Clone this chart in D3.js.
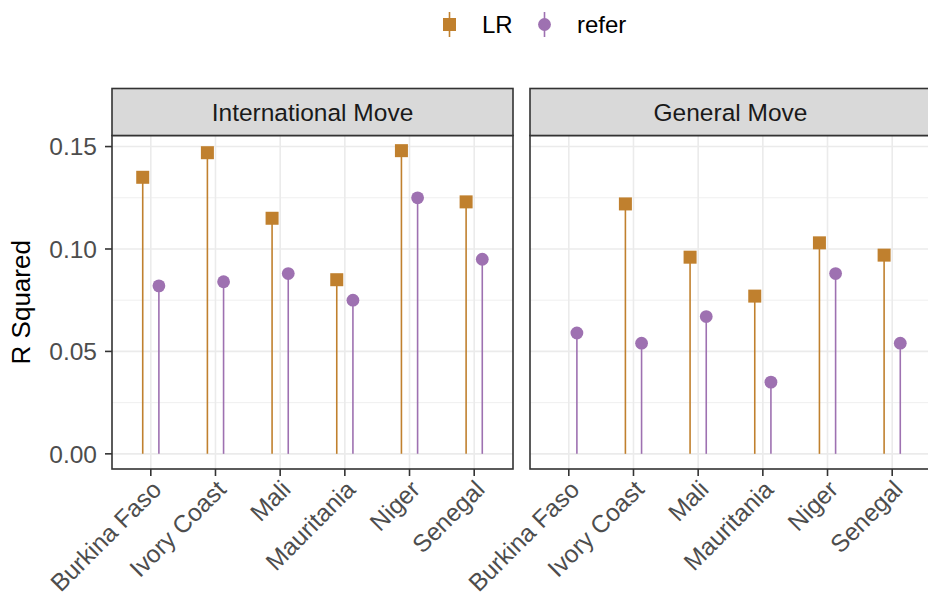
<!DOCTYPE html>
<html>
<head>
<meta charset="utf-8">
<script src="https://cdn.jsdelivr.net/npm/d3@7"></script>
<style>
  html, body { margin: 0; padding: 0; background: #fff; }
  svg { display: block; font-family: "Liberation Sans", Arial, Helvetica, sans-serif; }
</style>
</head>
<body>
<svg id="chart" width="928" height="598"></svg>
<script>
// Countries on the x axis, facets, and series
const countries = ["Burkina Faso", "Ivory Coast", "Mali", "Mauritania", "Niger", "Senegal"];
const facets = ["International Move", "General Move"];
const seriesNames = ["LR", "refer"];

// R squared values per facet (same country order)
const intlLR    = [0.135, 0.147, 0.115, 0.085, 0.148, 0.123];
const intlRefer = [0.082, 0.084, 0.088, 0.075, 0.125, 0.095];
const genLR     = [null,  0.122, 0.096, 0.077, 0.103, 0.097];
const genRefer  = [0.059, 0.054, 0.067, 0.035, 0.088, 0.054];

const yTicks = [0, 0.05, 0.10, 0.15];
const yMinor = [0.025, 0.075, 0.125];

const colors = { LR: "#C0802E", refer: "#9E71B1" };

// long-format rows built from the arrays
const rows = [];
const facetData = { "International Move": [intlLR, intlRefer], "General Move": [genLR, genRefer] };
facets.forEach(f => {
  const [lr, rf] = facetData[f];
  countries.forEach((c, i) => {
    if (lr[i] != null) rows.push({ facet: f, country: c, series: "LR", value: lr[i] });
    if (rf[i] != null) rows.push({ facet: f, country: c, series: "refer", value: rf[i] });
  });
});

const svg = d3.select("#chart");

const panelTop = 135.5, panelBottom = 469, stripTop = 88.5;
const panelW = 401, panelGap = 17, panelLeft = 112;

const ymax = d3.max(rows, d => d.value);
const y = d3.scaleLinear()
  .domain([-0.05 * ymax, 1.05 * ymax])
  .range([panelBottom, panelTop]);

const fmt = d3.format(".2f");

facets.forEach((f, fi) => {
  const x0 = panelLeft + fi * (panelW + panelGap);
  const x = d3.scalePoint().domain(countries).range([x0, x0 + panelW]).padding(0.6);
  const dodge = x.step() * 0.125;

  const g = svg.append("g");

  // minor grid
  g.selectAll(".ymin").data(yMinor).join("line")
    .attr("x1", x0).attr("x2", x0 + panelW)
    .attr("y1", d => y(d)).attr("y2", d => y(d))
    .attr("stroke", "#EBEBEB").attr("stroke-width", 0.8);
  // major grid
  g.selectAll(".ymaj").data(yTicks).join("line")
    .attr("x1", x0).attr("x2", x0 + panelW)
    .attr("y1", d => y(d)).attr("y2", d => y(d))
    .attr("stroke", "#EBEBEB").attr("stroke-width", 1.6);
  g.selectAll(".xmaj").data(countries).join("line")
    .attr("x1", d => x(d)).attr("x2", d => x(d))
    .attr("y1", panelTop).attr("y2", panelBottom)
    .attr("stroke", "#EBEBEB").attr("stroke-width", 1.6);

  const data = rows.filter(r => r.facet === f);
  const px = d => x(d.country) + (d.series === "LR" ? -dodge : dodge);

  // stems
  g.selectAll(".stem").data(data).join("line")
    .attr("x1", px).attr("x2", px)
    .attr("y1", y(0)).attr("y2", d => y(d.value))
    .attr("stroke", d => colors[d.series]).attr("stroke-width", 1.6);

  // heads
  const sq = 13;
  g.selectAll(".sq").data(data.filter(d => d.series === "LR")).join("rect")
    .attr("x", d => px(d) - sq / 2).attr("y", d => y(d.value) - sq / 2)
    .attr("width", sq).attr("height", sq)
    .attr("fill", colors.LR);
  g.selectAll(".dot").data(data.filter(d => d.series === "refer")).join("circle")
    .attr("cx", px).attr("cy", d => y(d.value)).attr("r", 6.4)
    .attr("fill", colors.refer);

  // panel border
  g.append("rect")
    .attr("x", x0).attr("y", panelTop)
    .attr("width", panelW).attr("height", panelBottom - panelTop)
    .attr("fill", "none").attr("stroke", "#333333").attr("stroke-width", 1.6);

  // strip
  g.append("rect")
    .attr("x", x0).attr("y", stripTop)
    .attr("width", panelW).attr("height", panelTop - stripTop)
    .attr("fill", "#D9D9D9").attr("stroke", "#333333").attr("stroke-width", 1.6);
  g.append("text")
    .attr("x", x0 + panelW / 2).attr("y", (stripTop + panelTop) / 2)
    .attr("dy", "0.36em")
    .attr("text-anchor", "middle")
    .attr("font-size", 24.5).attr("fill", "#1A1A1A")
    .text(f);

  // x axis ticks and labels
  const xa = g.append("g");
  xa.selectAll("line").data(countries).join("line")
    .attr("x1", d => x(d)).attr("x2", d => x(d))
    .attr("y1", panelBottom).attr("y2", panelBottom + 7)
    .attr("stroke", "#333333").attr("stroke-width", 1.6);
  xa.selectAll("text").data(countries).join("text")
    .attr("transform", d => `translate(${x(d) + 12},${panelBottom + 22}) rotate(-45)`)
    .attr("text-anchor", "end")
    .attr("font-size", 24.5).attr("fill", "#4D4D4D")
    .text(d => d);

  // y axis on the first panel
  if (fi === 0) {
    const ya = g.append("g");
    ya.selectAll("line").data(yTicks).join("line")
      .attr("x1", x0 - 7).attr("x2", x0)
      .attr("y1", d => y(d)).attr("y2", d => y(d))
      .attr("stroke", "#333333").attr("stroke-width", 1.6);
    ya.selectAll("text").data(yTicks).join("text")
      .attr("x", x0 - 15).attr("y", d => y(d))
      .attr("dy", "0.36em")
      .attr("text-anchor", "end")
      .attr("font-size", 24.5).attr("fill", "#4D4D4D")
      .text(d => fmt(d));
  }
});

// y axis title
svg.append("text")
  .attr("transform", `translate(30,${(panelTop + panelBottom) / 2}) rotate(-90)`)
  .attr("text-anchor", "middle")
  .attr("font-size", 26).attr("fill", "#000")
  .text("R Squared");

// legend
const legend = svg.append("g");
const keyX = { LR: 449.5, refer: 544.5 };
const labelX = { LR: 482, refer: 577 };
seriesNames.forEach(s => {
  legend.append("line")
    .attr("x1", keyX[s]).attr("x2", keyX[s])
    .attr("y1", 12).attr("y2", 37)
    .attr("stroke", colors[s]).attr("stroke-width", 1.6);
  if (s === "LR") {
    legend.append("rect")
      .attr("x", keyX[s] - 6.5).attr("y", 24.5 - 6.5)
      .attr("width", 13).attr("height", 13)
      .attr("fill", colors[s]);
  } else {
    legend.append("circle")
      .attr("cx", keyX[s]).attr("cy", 24.5).attr("r", 6.4)
      .attr("fill", colors[s]);
  }
  legend.append("text")
    .attr("x", labelX[s]).attr("y", 24.5)
    .attr("dy", "0.36em")
    .attr("font-size", 24).attr("fill", "#000")
    .text(s);
});
</script>
</body>
</html>
